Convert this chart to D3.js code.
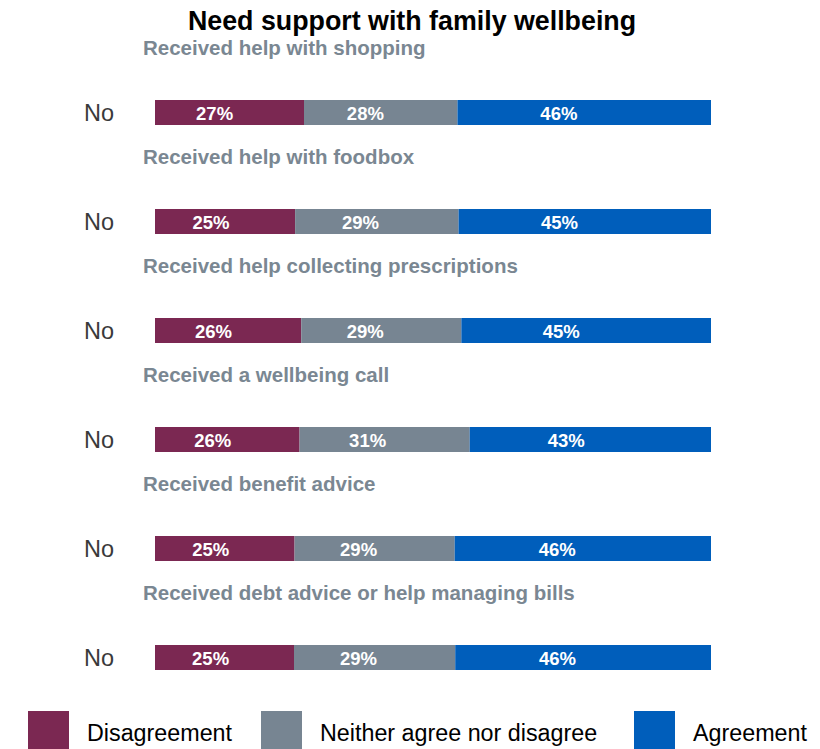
<!DOCTYPE html>
<html>
<head>
<meta charset="utf-8">
<script src="https://cdn.jsdelivr.net/npm/d3@7"></script>
<style>
  html, body { margin: 0; padding: 0; background: #fff; }
  svg { display: block; font-family: "Liberation Sans", Arial, sans-serif; }
</style>
</head>
<body>
<div id="chart"></div>
<script>
// Survey items (one "No" response row under each)
const items = [
  "Received help with shopping",
  "Received help with foodbox",
  "Received help collecting prescriptions",
  "Received a wellbeing call",
  "Received benefit advice",
  "Received debt advice or help managing bills"
];
const rowLabels = ["No", "No", "No", "No", "No", "No"];

// Response shares (%)
const disagreement = [26.8, 25.2, 26.3, 26.0, 25.1, 25.0];
const neither      = [27.6, 29.4, 28.8, 30.6, 28.8, 29.0];
const agreement    = [45.6, 45.4, 44.9, 43.4, 46.1, 46.0];

const seriesNames = ["Disagreement", "Neither agree nor disagree", "Agreement"];
const seriesColors = ["#7b2852", "#778592", "#005ebb"];

const title = "Need support with family wellbeing";

const W = 820, H = 749;
const svg = d3.select("#chart").append("svg")
  .attr("width", W).attr("height", H);

const x = d3.scaleLinear().domain([0, 100]).range([155, 711]);
const y = d3.scalePoint().domain(items).range([112.5, 657.5]);
const barH = 25;
const color = d3.scaleOrdinal().domain(seriesNames).range(seriesColors);

const rows = items.map((item, i) => ({
  item, label: rowLabels[i],
  Disagreement: disagreement[i],
  "Neither agree nor disagree": neither[i],
  Agreement: agreement[i]
}));
const stacked = d3.stack().keys(seriesNames)(rows);

// Title
svg.append("text")
  .attr("x", 412).attr("y", 30)
  .attr("text-anchor", "middle")
  .attr("font-size", 26.8).attr("font-weight", "bold")
  .attr("fill", "#000")
  .text(title);

// Item headings
svg.append("g").selectAll("text").data(items).join("text")
  .attr("x", 143)
  .attr("y", d => y(d) - 57.5)
  .attr("font-size", 20.5).attr("font-weight", "bold")
  .attr("fill", "#7a8792")
  .text(d => d);

// Row labels
svg.append("g").selectAll("text").data(rows).join("text")
  .attr("x", 114)
  .attr("y", d => y(d.item) + 8)
  .attr("text-anchor", "end")
  .attr("font-size", 23.5)
  .attr("fill", "#3a3a3a")
  .text(d => d.label);

// Stacked bars
const layers = svg.append("g").selectAll("g").data(stacked).join("g")
  .attr("fill", d => color(d.key));
layers.selectAll("rect").data(d => d).join("rect")
  .attr("x", d => x(d[0]))
  .attr("width", d => x(d[1]) - x(d[0]))
  .attr("y", d => y(d.data.item) - barH / 2)
  .attr("height", barH);

// Value labels
const fmt = v => d3.format(".0f")(v) + "%";
svg.append("g").selectAll("g").data(stacked).join("g")
  .selectAll("text").data(d => d.map(s => ({ s, key: d.key }))).join("text")
  .attr("x", d => x(d.s[0]) + 0.4 * (x(d.s[1]) - x(d.s[0])))
  .attr("y", d => y(d.s.data.item) + 7)
  .attr("text-anchor", "middle")
  .attr("font-size", 18.5).attr("font-weight", "bold")
  .attr("fill", "#fff")
  .text(d => fmt(d.s[1] - d.s[0]));

// Legend
const legendX = [28, 261, 634];
const lg = svg.append("g").selectAll("g").data(seriesNames).join("g")
  .attr("transform", (d, i) => `translate(${legendX[i]},711)`);
lg.append("rect")
  .attr("width", 41).attr("height", 40)
  .attr("fill", d => color(d));
lg.append("text")
  .attr("x", 59).attr("y", 30)
  .attr("font-size", 23.3)
  .attr("fill", "#000")
  .text(d => d);
</script>
</body>
</html>
